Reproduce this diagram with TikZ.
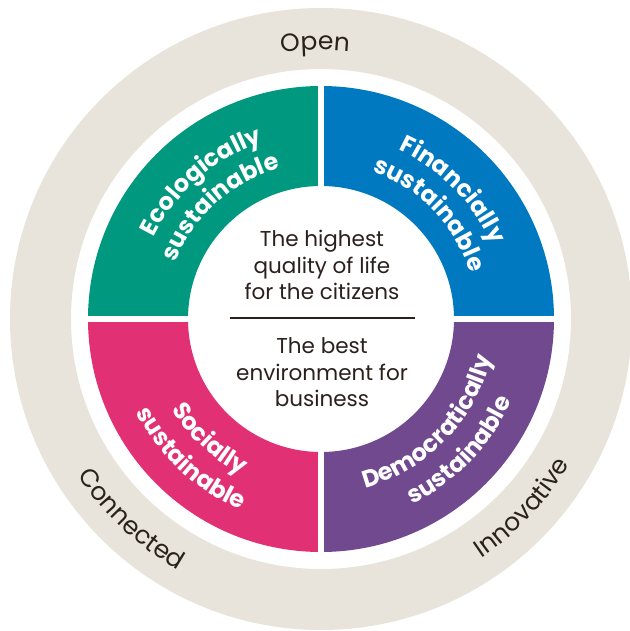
\documentclass[tikz,border=0pt]{standalone}
\usepackage{fontspec}
\setmainfont{Poppins}
\newfontfamily\ringfont{Poppins}
\newfontfamily\bandfont{Poppins}[LetterSpace=4]
\usetikzlibrary{decorations.text, positioning}

\definecolor{ringbeige}{RGB}{232,228,219}
\definecolor{ecogreen}{RGB}{0,152,126}
\definecolor{finblue}{RGB}{0,121,193}
\definecolor{socpink}{RGB}{226,48,116}
\definecolor{dempurple}{RGB}{112,73,143}
\definecolor{textdark}{RGB}{43,33,28}

\begin{document}
\begin{tikzpicture}[x=1pt, y=1pt,
    ringtext/.style={decorate, decoration={text along path, text align=center,
        text color=textdark, text={|\ringfont\fontsize{25}{25}\selectfont|#1}}},
    bandtext/.style={decorate, decoration={text along path, text align=center,
        text color=white, text={|\bandfont\bfseries\fontsize{24}{24}\selectfont|#1}}},
    midtext/.style={align=center, inner sep=0pt, text=textdark,
        font=\ringfont\fontsize{21.5}{26.5}\selectfont}]
    \useasboundingbox (-321,-312) rectangle (308,319);
    \fill[ringbeige, even odd rule] (0,0) circle (311) (0,0) circle (250);
    \foreach \a/\c in {0/finblue, 90/ecogreen, 180/socpink, 270/dempurple}
        \fill[\c] (\a:133) -- (\a:233) arc[start angle=\a, end angle=\a+90, radius=233]
            -- ({\a+90}:133) arc[start angle=\a+90, end angle=\a, radius=133] -- cycle;
    \draw[white, line width=5.5pt] (-236,0) -- (236,0) (0,-236) -- (0,236);

    \path[ringtext=Open] (151.2:269) arc[start angle=151.2, end angle=31.2, radius=269];
    \path[ringtext=Connected] (166.6:289) arc[start angle=166.6, end angle=286.6, radius=289];
    \path[ringtext=Innovative] (256.8:288) arc[start angle=256.8, end angle=376.8, radius=288];

    \path[bandtext=Ecologically] (191:186) arc[start angle=191, end angle=71, radius=186];
    \path[bandtext=sustainable] (192:156) arc[start angle=192, end angle=72, radius=156];
    \path[bandtext=Financially] (104.5:186) arc[start angle=104.5, end angle=-15.5, radius=186];
    \path[bandtext=sustainable] (104:156) arc[start angle=104, end angle=-16, radius=156];
    \path[bandtext=Democratically] (256:174.5) arc[start angle=256, end angle=376, radius=174.5];
    \path[bandtext=sustainable] (256.5:207) arc[start angle=256.5, end angle=376.5, radius=207];
    \path[bandtext=Socially] (167:174.5) arc[start angle=167, end angle=287, radius=174.5];
    \path[bandtext=sustainable] (167:207) arc[start angle=167, end angle=287, radius=207];

    \coordinate (divl) at (-91,0.7);
    \coordinate (divr) at (94,0.7);
    \coordinate (mid) at (1,0.7);
    \draw[textdark, line width=2pt] (divl) -- (divr);
    \node[midtext, above=18pt of mid] (quality) {The highest\\quality of life\\for the citizens};
    \node[midtext, below=19.5pt of mid] (business) {The best\\environment for\\business};
\end{tikzpicture}
\end{document}
